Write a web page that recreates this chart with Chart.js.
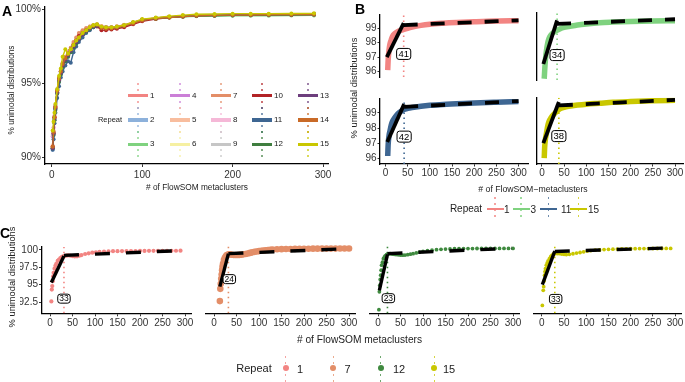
<!DOCTYPE html>
<html><head><meta charset="utf-8">
<script src="https://cdn.jsdelivr.net/npm/chart.js@4.4.1/dist/chart.umd.min.js"></script>
<style>
html,body{margin:0;padding:0;background:#fff;}
#root{position:relative;width:685px;height:382px;overflow:hidden;font-family:"Liberation Sans",Arial,Helvetica,sans-serif;color:#222;}
#root canvas{position:absolute;}
.t{position:absolute;white-space:nowrap;line-height:1;}
.k{position:absolute;}
</style></head><body><div id="root"></div>
<script>
// ================= DATA =================
// Panel A: 15 repeats, % unimodal distributions vs # of FlowSOM metaclusters
const repeatsA = ['1','2','3','4','5','6','7','8','9','10','11','12','13','14','15'];
const xA = [1,2,3,4,6,8,10,12,15,18,21,24,27,30,34,38,42,46,50,55,60,66,72,80,90,100,115,130,145,160,180,200,220,240,265,290];
const aRep1  = [90.7,91.7,92.7,93.4,94.5,95.3,95.8,96.3,96.7,97.0, 97.3,97.6,97.9,98.1,98.4,98.6,98.8,98.92,98.98,98.85, 98.8,98.8,98.85,98.95,99.12,99.3,99.42,99.5,99.56,99.6, 99.62,99.64,99.65,99.66,99.67,99.69];
const aRep2  = [90.5,91.5,92.5,93.2,94.3,95.1,95.6,96.1,96.5,96.8, 97.1,97.4,97.7,98.0,98.3,98.5,98.7,98.88,98.95,98.8, 98.75,98.75,98.8,98.9,99.1,99.28,99.4,99.48,99.54,99.58, 99.6,99.62,99.63,99.64,99.65,99.67];
const aRep3  = [90.6,91.6,92.6,93.3,94.4,95.2,95.7,96.2,96.6,96.9, 97.2,97.5,97.8,98.0,98.3,98.55,98.75,98.9,98.98,98.82, 98.78,98.78,98.82,98.92,99.1,99.28,99.38,99.46,99.5,99.54, 99.56,99.57,99.58,99.58,99.59,99.6];
const aRep4  = [91.4,92.0,92.8,93.5,94.5,95.3,95.8,96.3,96.7,97.0, 97.3,97.6,97.9,98.1,98.4,98.6,98.8,98.9,98.97,98.85, 98.8,98.8,98.85,98.95,99.12,99.3,99.42,99.5,99.55,99.6, 99.62,99.64,99.65,99.66,99.67,99.69];
const aRep5  = [90.8,91.8,92.8,93.5,94.6,95.4,95.9,96.4,96.8,97.1, 97.4,97.7,98.0,98.3,98.5,98.7,98.85,98.95,99.0,98.88, 98.82,98.82,98.86,98.96,99.14,99.32,99.42,99.5,99.56,99.6, 99.62,99.64,99.65,99.66,99.67,99.7];
const aRep6  = [90.6,91.6,92.6,93.3,94.4,95.2,95.7,96.2,96.6,96.9, 97.2,97.5,97.8,98.0,98.3,98.55,98.75,98.9,98.98,98.8, 98.76,98.76,98.8,98.9,99.1,99.3,99.4,99.5,99.55,99.6, 99.62,99.64,99.65,99.66,99.67,99.7];
const aRep7  = [90.7,91.7,92.7,93.4,94.5,95.4,95.9,96.4,96.8,97.1, 97.4,97.8,98.1,98.4,98.6,98.75,98.85,98.92,98.98,98.85, 98.8,98.8,98.85,98.95,99.12,99.3,99.42,99.5,99.55,99.6, 99.62,99.64,99.65,99.66,99.67,99.68];
const aRep8  = [91.5,92.0,92.7,93.4,94.5,95.3,95.8,96.3,96.7,97.0, 97.3,97.6,97.9,98.1,98.4,98.6,98.8,98.9,98.97,98.85, 98.8,98.8,98.85,98.95,99.12,99.3,99.4,99.48,99.54,99.58, 99.6,99.62,99.63,99.64,99.65,99.66];
const aRep9  = [90.6,91.7,92.7,93.5,94.6,95.3,95.8,96.3,96.7,97.0, 97.3,97.6,97.9,98.1,98.4,98.6,98.78,98.9,98.96,98.82, 98.78,98.78,98.82,98.92,99.1,99.28,99.4,99.48,99.54,99.58, 99.6,99.62,99.63,99.64,99.65,99.66];
const aRep10 = [90.7,91.6,92.7,93.4,94.5,95.3,95.8,96.3,96.7,97.0, 97.3,97.6,97.9,98.2,98.4,98.6,98.7,98.8,98.85,98.6, 98.6,98.65,98.7,98.8,99.0,99.2,99.35,99.45,99.52,99.58, 99.6,99.62,99.63,99.64,99.65,99.66];
const aRep11 = [90.5,91.2,92.3,93.0,94.0,94.8,95.4,95.8,96.2,96.5, 96.4,97.1,97.5,97.8,98.1,98.4,98.6,98.8,98.9,98.8, 98.75,98.75,98.8,98.9,99.1,99.3,99.4,99.5,99.55,99.6, 99.62,99.64,99.65,99.66,99.67,99.68];
const aRep12 = [90.6,91.5,92.5,93.2,94.3,95.1,95.6,96.1,96.5,96.8, 97.1,97.4,97.7,98.0,98.3,98.5,98.7,98.85,98.95,98.8, 98.75,98.75,98.8,98.9,99.08,99.28,99.38,99.46,99.52,99.56, 99.58,99.6,99.61,99.62,99.63,99.64];
const aRep13 = [90.6,91.6,92.6,93.3,94.4,95.2,95.7,96.2,96.6,96.9, 97.2,97.5,97.8,98.0,98.3,98.55,98.75,98.9,98.97,98.82, 98.78,98.78,98.82,98.92,99.1,99.3,99.4,99.5,99.55,99.6, 99.62,99.64,99.65,99.66,99.67,99.69];
const aRep14 = [90.7,91.7,92.7,93.4,94.5,95.3,95.8,96.3,96.7,97.0, 97.3,97.6,97.9,98.1,98.4,98.6,98.78,98.9,98.96,98.75, 98.7,98.72,98.78,98.88,99.06,99.26,99.38,99.46,99.52,99.58, 99.6,99.62,99.63,99.64,99.65,99.66];
const aRep15 = [91.8,92.4,93.0,93.6,94.6,95.5,96.0,96.8,97.3,97.0, 97.3,97.6,97.9,98.1,98.4,98.6,98.8,98.95,99.0,98.85, 98.8,98.8,98.85,98.95,99.15,99.35,99.45,99.55,99.62,99.68, 99.7,99.72,99.72,99.72,99.73,99.74];
const seriesA = [aRep1,aRep2,aRep3,aRep4,aRep5,aRep6,aRep7,aRep8,aRep9,aRep10,aRep11,aRep12,aRep13,aRep14,aRep15];
const aXTicks = [0,100,200,300], aXTickLabels = ['0','100','200','300'];
const aYTicks = [90,95,100], aYTickLabels = ['90%','95%','100%'];

// Panel B: 4 repeats, smoothed curve + piecewise linear fit
const bRepeats = ['1','3','11','15'];
const bCurveX = [5,6,8,10,13,16,20,25,30,40,50,60,80,100,130,160,200,250,300];
const bCurve1  = [96.1,96.8,97.5,97.9,98.2,98.45,98.6,98.72,98.8,98.9,99.0,99.08,99.2,99.28,99.35,99.4,99.45,99.5,99.52];
const bCurve3  = [95.7,96.2,97.0,97.5,98.0,98.3,98.5,98.65,98.75,98.9,99.0,99.05,99.15,99.22,99.3,99.34,99.38,99.41,99.43];
const bCurve11 = [96.15,96.9,97.5,97.8,98.2,98.45,98.65,98.85,99.0,99.2,99.3,99.36,99.44,99.5,99.56,99.6,99.66,99.71,99.75];
const bCurve15 = [96.0,96.7,97.3,97.6,98.1,98.4,98.6,98.8,98.95,99.2,99.3,99.36,99.44,99.5,99.56,99.62,99.67,99.72,99.75];
const bCurves = [bCurve1,bCurve3,bCurve11,bCurve15];
const bBreakX = [41,34,42,38];
const bBreakLabels = ['41','34','42','38'];
const bFitStartX = [3,3,4,3];
const bFitStartY = [97.0,96.65,97.08,96.97];
const bFitPeakY = [99.35,99.45,99.58,99.64];
const bFitDashStartY = [99.22,99.22,99.4,99.42];
const bFitEndX = [300,300,300,300];
const bFitEndY = [99.55,99.52,99.78,99.78];
const bLabelY = [97.22,97.22,97.43,97.43];
const bXTicks = [0,50,100,150,200,250,300], bXTickLabels = ['0','50','100','150','200','250','300'];
const bYTicks = [96,97,98,99], bYTickLabels = ['96','97','98','99'];

// Panel C: 4 repeats, points + piecewise linear fit
const cRepeats = ['1','7','12','15'];
const cX1 = [3,4,5,6,7,8,10,12,14,17,20,23,26,29,32,36,40,45,50,55,60,65,70,78,86,94,102,110,120,130,140,150,160,170,180,190,200,210,220,230,240,250,260,270,280,290];
const cY1 = [92.6,94.3,94.8,95.5,96.2,96.7,97.3,97.7,98.0,98.4, 98.6,98.8,98.95,99.05,99.1,99.15,99.2,99.15,99.1,99.05, 99.07,99.15,99.25,99.4,99.5,99.58,99.65,99.7,99.74,99.77, 99.8,99.8,99.82,99.82,99.83,99.83,99.84,99.84,99.85,99.85, 99.85,99.86,99.86,99.86,99.86,99.87];
const cX7 = [13,14,15,16,17,18,19,20,22,24,26,28,30,33,36,40,44,48,52,56,60,65,70,75,80,85,90,95,100,105,110,115,120,125,130,140,150,160,170,180,190,200,210,220,230,240,250,260,270,280,290,300];
const cY7 = [92.6,94.3,95.0,95.7,96.3,96.9,97.4,97.8,98.3,98.6, 98.8,98.95,99.05,99.1,99.1,99.05,99.0,99.0,99.0,99.02, 99.05,99.1,99.15,99.22,99.3,99.38,99.45,99.5,99.55,99.6, 99.64,99.68,99.7,99.73,99.75,99.8,99.82,99.84,99.85,99.86, 99.87,99.88,99.88,99.89,99.89,99.9,99.9,99.9,99.9,99.91, 99.91,99.91];
const cX12 = [2,3,4,5,6,7,8,10,12,14,16,19,22,25,28,32,36,40,45,50,55,60,66,72,78,85,92,100,110,120,130,140,150,160,170,180,190,200,210,220,230,240,250,260,270,280,290,300];
const cY12 = [91.4,93.9,94.8,95.6,96.2,96.9,97.6,98.0,98.5,98.7, 98.9,99.07,99.15,99.2,99.2,99.15,99.1,99.07,99.03,99.0, 98.98,99.0,99.05,99.12,99.2,99.3,99.4,99.5,99.6,99.68, 99.75,99.8,99.84,99.86,99.88,99.89,99.9,99.9,99.9,99.91, 99.91,99.91,99.92,99.92,99.92,99.92,99.93,99.93];
const cX15 = [1,3,4,5,6,7,8,10,12,14,17,20,23,26,30,35,40,45,50,55,62,70,78,86,94,102,110,120,130,140,150,160,170,180,190,200,210,220,230,240,250,260,270,280,290];
const cY15 = [92.0,94.1,94.6,95.4,96.2,96.7,97.1,97.6,97.9,98.2, 98.5,98.8,99.0,99.15,99.2,99.22,99.2,99.15,99.1,99.07, 99.1,99.18,99.28,99.36,99.45,99.55,99.62,99.68,99.72,99.76, 99.8,99.82,99.84,99.86,99.87,99.88,99.89,99.9,99.9,99.9, 99.91,99.91,99.91,99.92,99.92];
const cXs = [cX1,cX7,cX12,cX15], cYs = [cY1,cY7,cY12,cY15];
const cBreakX = [31,32,21,29];
const cBreakLabels = ['33','24','23','33'];
const cLabelX = [31,34,23,31];
const cLabelY = [93.0,95.65,93.0,92.9];
const cFitStartX = [3,13,3,1];
const cFitStartY = [95.3,94.6,94.1,94.9];
const cFitPeakY = [99.12,99.2,99.1,99.54];
const cFitDashStartY = [99.2,99.2,99.2,99.5];
const cFitEndX = [295,302,297,292];
const cFitEndY = [99.9,99.9,99.95,100.0];
const cXTicks = [0,50,100,150,200,250,300], cXTickLabels = ['0','50','100','150','200','250','300'];
const cYTicks = [92.5,95,97.5,100], cYTickLabels = ['92.5','95','97.5','100'];

// ================= STYLE =================
const FONT = '"Liberation Sans", Arial, Helvetica, sans-serif';
const PAL_A = ['#F28482','#8DB1DB','#7FD27F','#CB7FD7','#F8BD9E','#F6F0A2','#E38E68','#F5B8D7','#C6C6C6','#B22326','#3E6692','#3F7E3F','#6D3E7D','#C96A27','#C9C700'];
const PAL_B = ['#F28482','#7FD27F','#3E6692','#C9C700'];
const PAL_C = ['#F28482','#E38E68','#3F8A3F','#C9C700'];
const TICK_COL = '#333';

Chart.defaults.font.family = FONT;
const ROOT = document.getElementById('root');

Chart.register({
  id: 'boxLabel',
  afterDatasetsDraw(chart, args, o) {
    if (!o || o.text == null) return;
    const ctx = chart.ctx;
    const px = chart.scales.x.getPixelForValue(o.x), py = chart.scales.y.getPixelForValue(o.y);
    ctx.save();
    ctx.font = o.size + 'px ' + FONT;
    const tw = ctx.measureText(o.text).width;
    const w = tw + 2 * o.padX, h = o.h;
    ctx.beginPath();
    ctx.roundRect(px - w / 2, py - h / 2, w, h, 2.5);
    ctx.fillStyle = '#fff'; ctx.fill();
    ctx.lineWidth = 1; ctx.strokeStyle = '#000'; ctx.stroke();
    ctx.fillStyle = '#000'; ctx.textAlign = 'center'; ctx.textBaseline = 'middle';
    ctx.fillText(o.text, px, py + 0.5);
    ctx.restore();
  }
});

function addText(str, x, y, size, o = {}) {
  const d = document.createElement('div');
  d.className = 't'; d.textContent = str;
  d.style.left = x + 'px'; d.style.top = y + 'px'; d.style.fontSize = size + 'px';
  if (o.bold) d.style.fontWeight = 'bold';
  if (o.color) d.style.color = o.color;
  const ax = o.anchor === 'left' ? '0' : (o.anchor === 'right' ? '-100%' : '-50%');
  d.style.transform = 'translate(' + ax + ',-50%)' + (o.rot ? ' rotate(-90deg)' : '');
  ROOT.appendChild(d);
}
function addDiv(x, y, w, h, css) {
  const d = document.createElement('div');
  d.className = 'k';
  Object.assign(d.style, { left: x + 'px', top: y + 'px', width: w + 'px', height: h + 'px' }, css);
  ROOT.appendChild(d);
}
function vdots(cx, y0, len, col, w, op) {
  addDiv(cx - w / 2, y0, w, len, { background: 'repeating-linear-gradient(to bottom,' + col + ' 0px,' + col + ' 2px,transparent 2px,transparent 6px)', opacity: op });
}

function scale(min, max, ticks, labels, o) {
  return {
    type: 'linear', min, max,
    afterBuildTicks: s => { s.ticks = ticks.map(v => ({ value: v })); },
    border: { display: o.line, color: '#000', width: 1.3 },
    grid: { display: o.ticks, drawOnChartArea: false, drawTicks: true, tickLength: o.tl || 3, color: TICK_COL, lineWidth: 1 },
    ticks: { display: o.ticks, autoSkip: false, maxRotation: 0, minRotation: 0, padding: o.pad == null ? 1 : o.pad, color: TICK_COL, font: { size: o.fs, family: FONT }, callback: (v, i) => labels[i] }
  };
}

function mk(crect, prect, datasets, xs, ys, label) {
  const [cx, cy, cw, ch] = crect, [px, py, pw, ph] = prect;
  const cv = document.createElement('canvas');
  cv.width = cw; cv.height = ch;
  Object.assign(cv.style, { left: cx + 'px', top: cy + 'px', width: cw + 'px', height: ch + 'px' });
  ROOT.appendChild(cv);
  const ML = px - cx, MT = py - cy, MR = cx + cw - px - pw, MB = cy + ch - py - ph;
  xs.position = 'bottom'; ys.position = 'left';
  xs.afterFit = s => { s.height = MB; };
  ys.afterFit = s => { s.width = ML; };
  return new Chart(cv, {
    type: 'line',
    data: { datasets },
    options: {
      responsive: false, animation: false, devicePixelRatio: 1, events: [],
      layout: { padding: { left: 0, top: MT, right: MR, bottom: 0 } },
      plugins: { legend: { display: false }, tooltip: { enabled: false }, boxLabel: label || false },
      scales: { x: xs, y: ys }
    }
  });
}
const pts = (xs, ys) => xs.map((x, i) => ({ x, y: ys[i] }));

// ================= PANEL A =================
{
  const pr = [45, 5, 283, 159];
  const xmin = -7.5, xmax = 305.5, ymin = 89.53, ymax = 100.17;
  const ds = seriesA.map((s, i) => ({
    data: pts(xA, s), borderColor: PAL_A[i], backgroundColor: PAL_A[i], borderWidth: 1.4,
    pointRadius: 2, pointBorderWidth: 0, pointBackgroundColor: PAL_A[i], order: 15 - i
  }));
  mk([0, 0, 340, 182], pr, ds,
    scale(xmin, xmax, aXTicks, aXTickLabels, { line: true, ticks: true, fs: 10, pad: 2, tl: 3 }),
    scale(ymin, ymax, aYTicks, aYTickLabels, { line: true, ticks: true, fs: 10, pad: 1, tl: 3 }));
  addText('A', 7, 10.5, 14, { bold: true, color: '#000' });
  addText('% unimodal distributions', 12, 90, 8.2, { rot: true });
  addText('# of FlowSOM metaclusters', 197, 187, 8.3);
  // legend
  addText('Repeat', 110, 120, 7.5);
  const colX = [128, 170, 211, 252, 298], rowY = [95.7, 120, 144.3];
  repeatsA.forEach((r, i) => {
    const x = colX[Math.floor(i / 3)], y = rowY[i % 3], c = PAL_A[i];
    vdots(x + 10, y - 13, 26, c, 1.8, 0.65);
    addDiv(x, y - 1.6, 20, 3.2, { background: c });
    addText(r, x + 22, y, 8, { anchor: 'left' });
  });
}

// ================= PANEL B =================
{
  const PXU = 0.4434, xmin = -12.4, ymin = 95.62, ymax = 99.92;
  const layout = [
    { c: [355, 8, 177, 76], p: [380, 13, 148, 67], yl: true, xl: false },
    { c: [532, 8, 153, 76], p: [536.5, 13, 146.5, 67], yl: false, xl: false },
    { c: [355, 92, 177, 92], p: [380, 97.7, 148, 66.3], yl: true, xl: true },
    { c: [532, 92, 153, 92], p: [536.5, 97.7, 146.5, 66.3], yl: false, xl: true }
  ];
  layout.forEach((L, i) => {
    const col = PAL_B[i];
    const xmax = xmin + L.p[2] / PXU;
    const ds = [
      { data: pts(bCurveX, bCurves[i]), borderColor: col, borderWidth: 5.5, pointRadius: 0, cubicInterpolationMode: 'monotone', order: 2 },
      { data: [{ x: bBreakX[i], y: ymin }, { x: bBreakX[i], y: ymax }], borderColor: col, borderWidth: 1.6, borderDash: [1.6, 3.4], pointRadius: 0, order: 3 },
      { data: [{ x: bFitStartX[i], y: bFitStartY[i] }, { x: bBreakX[i], y: bFitPeakY[i] }], borderColor: '#000', borderWidth: 3.8, pointRadius: 0, order: 0 },
      { data: [{ x: bBreakX[i], y: bFitDashStartY[i] }, { x: bFitEndX[i], y: bFitEndY[i] }], borderColor: '#000', borderWidth: 3.8, borderDash: [14, 13], pointRadius: 0, order: 1 }
    ];
    mk(L.c, L.p, ds,
      scale(xmin, xmax, bXTicks, bXTickLabels, { line: L.xl, ticks: L.xl, fs: 10, pad: 1, tl: 2.5 }),
      scale(ymin, ymax, bYTicks, bYTickLabels, { line: true, ticks: L.yl, fs: 10, pad: 1, tl: 2.5 }),
      { x: bBreakX[i], y: bLabelY[i], text: bBreakLabels[i], size: 9.5, padX: 1.8, h: 11 });
  });
  addText('B', 360, 8.7, 14, { bold: true, color: '#000' });
  addText('% unimodal distributions', 355, 88, 9.3, { rot: true });
  addText('# of FlowSOM\u2212metaclusters', 533, 189, 8.7);
  addText('Repeat', 466, 209, 10);
  const kx = [486.5, 512.5, 540, 570], lx = [504, 530.5, 561, 588];
  bRepeats.forEach((r, i) => {
    vdots(kx[i] + 8.5, 197, 24, PAL_B[i], 1.6, 0.75);
    addDiv(kx[i], 208, 17, 2.4, { background: PAL_B[i] });
    addText(r, lx[i], 209.5, 10, { anchor: 'left' });
  });
}

// ================= PANEL C =================
{
  const PXU = 0.45, xmin = -17.8, ymin = 90.9, ymax = 100.4;
  const layout = [
    { c: [20, 240, 175, 94], p: [42, 245, 149, 68.3], yl: true, r: 2.1 },
    { c: [200, 240, 159, 94], p: [206, 245, 149, 68.3], yl: false, r: 3.3 },
    { c: [362, 240, 161, 94], p: [370, 245, 149, 68.3], yl: false, r: 1.9 },
    { c: [527, 240, 158, 94], p: [534, 245, 149, 68.3], yl: false, r: 1.9 }
  ];
  layout.forEach((L, i) => {
    const col = PAL_C[i];
    const xmax = xmin + L.p[2] / PXU;
    const ds = [
      { data: pts(cXs[i], cYs[i]), showLine: false, pointRadius: L.r, pointBorderWidth: 0, pointBackgroundColor: col, borderColor: col, order: 2 },
      { data: [{ x: cBreakX[i], y: ymin }, { x: cBreakX[i], y: ymax }], borderColor: col, borderWidth: 1.6, borderDash: [1.6, 3.4], pointRadius: 0, order: 3 },
      { data: [{ x: cFitStartX[i], y: cFitStartY[i] }, { x: cBreakX[i], y: cFitPeakY[i] }], borderColor: '#000', borderWidth: 3.4, pointRadius: 0, order: 0 },
      { data: [{ x: cBreakX[i], y: cFitDashStartY[i] }, { x: cFitEndX[i], y: cFitEndY[i] }], borderColor: '#000', borderWidth: 3.4, borderDash: [15, 16], pointRadius: 0, order: 1 }
    ];
    mk(L.c, L.p, ds,
      scale(xmin, xmax, cXTicks, cXTickLabels, { line: true, ticks: true, fs: 10, pad: 1, tl: 3 }),
      scale(ymin, ymax, cYTicks, cYTickLabels, { line: L.yl, ticks: L.yl, fs: 10, pad: 1, tl: 3 }),
      { x: cLabelX[i], y: cLabelY[i], text: cBreakLabels[i], size: 8.5, padX: 1.5, h: 9 });
  });
  addText('C', 5, 232.8, 14, { bold: true, color: '#000' });
  addText('% unimodal distributions', 13, 277, 9.3, { rot: true });
  addText('# of FlowSOM metaclusters', 359.5, 340, 10.2);
  addText('Repeat', 254, 368.3, 11);
  const kx = [285.7, 333.3, 380.7, 434.3], lx = [297, 344.5, 393, 443];
  cRepeats.forEach((r, i) => {
    vdots(kx[i], 356, 27, PAL_C[i], 1.6, 0.75);
    addDiv(kx[i] - 3, 365.3, 6, 6, { background: PAL_C[i], borderRadius: '50%' });
    addText(r, lx[i], 368.5, 11, { anchor: 'left' });
  });
}
</script></body></html>
